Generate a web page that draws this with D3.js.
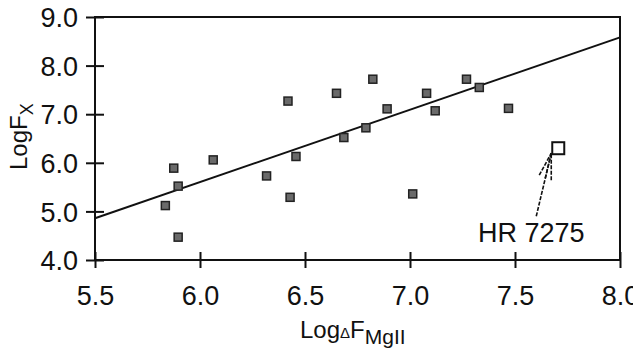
<!DOCTYPE html>
<html>
<head>
<meta charset="utf-8">
<script src="https://cdn.jsdelivr.net/npm/d3@7"></script>
<style>
  body { margin: 0; background: #fff; }
  svg { display: block; font-family: "Liberation Sans", Arial, sans-serif; }
</style>
</head>
<body>
<svg id="chart" width="633" height="351"></svg>
<script>
// Data
var logMgII = [5.875, 5.896, 5.835, 5.896, 6.063, 6.317, 6.419, 6.457, 6.429, 6.65,
               6.685, 6.79, 6.823, 6.891, 7.013, 7.079, 7.12, 7.269, 7.33, 7.469];
var logFx = [5.89, 5.52, 5.12, 4.47, 6.06, 5.73, 7.27, 6.13, 5.29, 7.43,
             6.52, 6.72, 7.72, 7.11, 5.36, 7.43, 7.07, 7.72, 7.55, 7.12];
var fitLine = [[5.5, 4.86], [8.0, 8.58]];
var hrStar = [7.706, 6.30];
var hrLabel = "HR 7275";
var xTicks = [5.5, 6.0, 6.5, 7.0, 7.5, 8.0];
var yTicks = [4.0, 5.0, 6.0, 7.0, 8.0, 9.0];

var svg = d3.select("#chart");

// Scales
var x = d3.scaleLinear().domain([5.5, 8.0]).range([95, 620]);
var y = d3.scaleLinear().domain([4, 9]).range([260, 17]);

// Frame round the plot
svg.append("rect")
    .attr("x", x(5.5))
    .attr("y", y(9))
    .attr("width", x(8.0) - x(5.5))
    .attr("height", y(4) - y(9))
    .attr("fill", "none")
    .attr("stroke", "#111")
    .attr("stroke-width", 2);

// X axis, ticks cross the line
var gx = svg.append("g")
    .attr("transform", "translate(0," + (y(4) - 8) + ")")
    .call(d3.axisBottom(x).tickValues(xTicks).tickFormat(d3.format(".1f")).tickSize(16));
gx.select(".domain").remove();
gx.selectAll("line").attr("stroke", "#111").attr("stroke-width", 2);
gx.selectAll("text")
    .attr("y", 53)
    .attr("dy", 0)
    .attr("fill", "#111")
    .style("font-size", "27px");

// Y axis
var gy = svg.append("g")
    .attr("transform", "translate(" + (x(5.5) + 9) + ",0)")
    .call(d3.axisLeft(y).tickValues(yTicks).tickFormat(d3.format(".1f")).tickSize(18));
gy.select(".domain").remove();
gy.selectAll("line").attr("stroke", "#111").attr("stroke-width", 2);
gy.selectAll("text")
    .attr("x", -26)
    .attr("dy", "0.36em")
    .attr("fill", "#111")
    .style("font-size", "27px");

// Axis titles
var xt = svg.append("text")
    .attr("x", 300)
    .attr("y", 338)
    .attr("fill", "#111")
    .style("font-size", "24px");
xt.append("tspan").text("Log");
xt.append("tspan").style("font-size", "15px").text("\u0394");
xt.append("tspan").text("F");
xt.append("tspan").attr("dy", 6).style("font-size", "21px").text("MgII");

var yt = svg.append("text")
    .attr("transform", "translate(27,170) rotate(-90)")
    .attr("fill", "#111")
    .style("font-size", "24px");
yt.append("tspan").text("LogF");
yt.append("tspan").attr("dy", 6).style("font-size", "18px").text("X");

// Fit line
svg.append("path")
    .datum(fitLine)
    .attr("d", d3.line().x(d => x(d[0])).y(d => y(d[1])))
    .attr("fill", "none")
    .attr("stroke", "#111")
    .attr("stroke-width", 2);

// Points
svg.selectAll("rect.pt")
    .data(d3.zip(logMgII, logFx))
    .enter().append("rect")
    .attr("class", "pt")
    .attr("x", d => x(d[0]) - 4)
    .attr("y", d => y(d[1]) - 4)
    .attr("width", 8)
    .attr("height", 8)
    .attr("fill", "#6a6a6a")
    .attr("stroke", "#222")
    .attr("stroke-width", 1.5);

// HR 7275, open square
svg.append("rect")
    .attr("x", x(hrStar[0]) - 6)
    .attr("y", y(hrStar[1]) - 6)
    .attr("width", 12)
    .attr("height", 12)
    .attr("fill", "#fff")
    .attr("stroke", "#111")
    .attr("stroke-width", 2);

// Arrow from label up to the square
var tipX = x(hrStar[0]) - 7, tipY = y(hrStar[1]) + 5;
var arrow = svg.append("g")
    .attr("stroke", "#111")
    .attr("stroke-width", 1.6)
    .attr("stroke-dasharray", "4,1.5")
    .attr("fill", "none");
arrow.append("line").attr("x1", tipX - 15).attr("y1", tipY + 63).attr("x2", tipX).attr("y2", tipY);
arrow.append("line").attr("x1", tipX - 12).attr("y1", tipY + 22).attr("x2", tipX).attr("y2", tipY);
arrow.append("line").attr("x1", tipX).attr("y1", tipY + 27).attr("x2", tipX).attr("y2", tipY);
arrow.append("line").attr("x1", tipX - 6).attr("y1", tipY + 25).attr("x2", tipX).attr("y2", tipY);

svg.append("text")
    .attr("x", 478)
    .attr("y", 242)
    .attr("fill", "#111")
    .style("font-size", "27px")
    .text(hrLabel);
</script>
</body>
</html>
